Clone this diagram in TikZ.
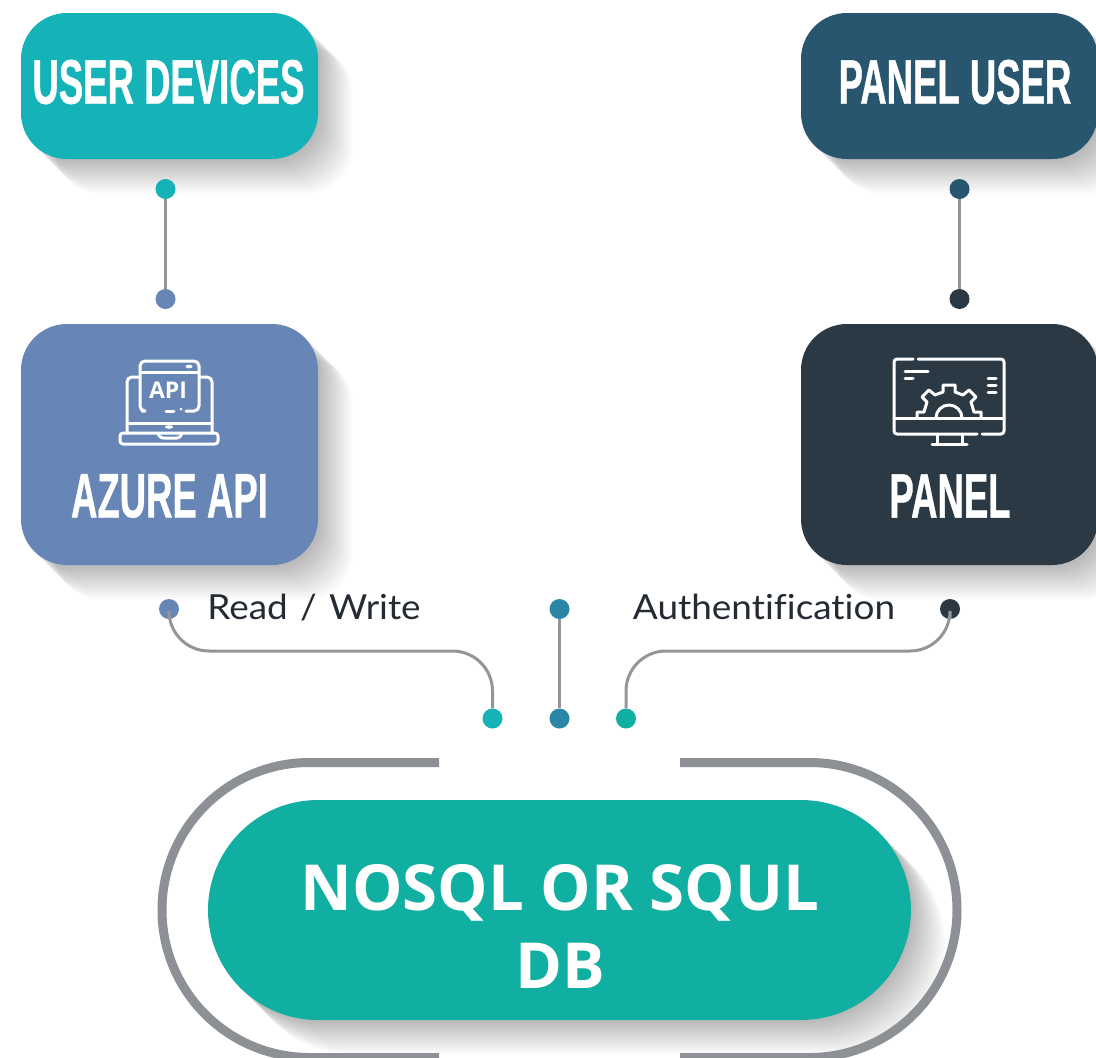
\documentclass[tikz,border=0pt]{standalone}
\usepackage{fontspec}
\setmainfont{Open Sans}
\newfontfamily\headfont[FakeStretch=0.58,FakeBold=0.6]{Liberation Sans}
\newfontfamily\labelfont[FakeStretch=1.07,WordSpace=1.3,Ligatures=NoCommon]{Lato}
\definecolor{cteal}{HTML}{15B2B8}
\definecolor{cnavy}{HTML}{27566E}
\definecolor{cblue}{HTML}{6785B5}
\definecolor{cdark}{HTML}{2A3944}
\definecolor{cgreen}{HTML}{11AFA1}
\definecolor{cmid}{HTML}{2A86A5}
\definecolor{cline}{HTML}{939598}
\definecolor{cring}{HTML}{8D9095}
\definecolor{ctext}{HTML}{252B33}
\newcommand{\softshadow}[5]{%
  \foreach \i in {1,...,35}{%
    \fill[black!60,opacity=.011,rounded corners=#5pt]
      (#1+\i,#2+\i) rectangle (#3+\i,#4+\i);
  }}
\tikzset{
  box/.style={rectangle,inner sep=0pt,minimum width=297pt,rounded corners=46pt,fill=#1},
  head/.style={text=white,inner sep=0pt,font=\headfont\bfseries\fontsize{63}{63}\selectfont},
  dot/.style={circle,inner sep=0pt,minimum size=20pt,fill=#1},
  conn/.style={draw=cline,line width=3pt},
  lbl/.style={text=ctext,inner sep=0pt,font=\labelfont\fontsize{34.5}{34.5}\selectfont},
  ring/.style={draw=cring,line width=9pt},
  icon/.style={draw=white,line width=3pt,line cap=round,line join=round},
}
\begin{document}
\begin{tikzpicture}[x=1pt,y=-1pt]
\useasboundingbox (0,0) rectangle (1096,1058);
\clip (0,0) rectangle (1096,1058);
\fill[white] (0,0) rectangle (1096,1058);
% shadows
\softshadow{21}{13}{318}{159}{46}
\softshadow{801}{13}{1098}{159}{46}
\softshadow{21}{324}{318}{565}{46}
\softshadow{801}{324}{1098}{565}{46}
\softshadow{208}{800}{911}{1020}{110}
% ring
\draw[ring] (439,762.5) -- (309.5,762.5) arc[start angle=90,end angle=270,radius=147.5pt] -- (439,1057.5);
\draw[ring] (680,762.5) -- (809.5,762.5) arc[start angle=90,end angle=-90,radius=147.5pt] -- (680,1057.5);
% boxes
\node[box=cteal,minimum height=146pt] (devices) at (169.5,86) {};
\node[box=cnavy,minimum height=146pt] (paneluser) at (949.5,86) {};
\node[box=cblue,minimum height=241pt] (azure) at (169.5,444.5) {};
\node[box=cdark,minimum height=241pt] (panel) at (949.5,444.5) {};
\node[rectangle,inner sep=0pt,minimum width=703pt,minimum height=220pt,rounded corners=110pt,fill=cgreen] (db) at (559.5,910) {};
% box texts
\node[head] (tdevices) at (168.5,82) {USER DEVICES};
\node[head] (tpaneluser) at (955,82) {PANEL USER};
\node[head] (tazure) at (169.5,496) {AZURE API};
\node[head] (tpanel) at (950,496) {PANEL};
\node[text=white,inner sep=0pt,align=center,font=\bfseries\fontsize{63.5}{78}\selectfont] (tdb) at (560,926) {NOSQL OR SQUL\\DB};
% dots
\node[dot=cteal] (d1) at (165.5,189) {};
\node[dot=cblue] (d2) at (165.5,299) {};
\node[dot=cnavy] (d3) at (959.5,189) {};
\node[dot=cdark] (d4) at (959.5,299) {};
\node[dot=cblue] (d5) at (169,609) {};
\node[dot=cmid] (d6) at (559.5,609) {};
\node[dot=cdark] (d7) at (950,609) {};
\node[dot=cteal] (d8) at (492.5,718.5) {};
\node[dot=cmid] (d9) at (559.5,718.5) {};
\node[dot=cgreen] (d10) at (626,718.5) {};
\coordinate (m1) at (330,651);
\coordinate (m2) at (790,651);
% connectors
\draw[conn] (d1) -- (d2);
\draw[conn] (d3) -- (d4);
\draw[conn] (d6) -- (d9);
\draw[conn,rounded corners=40pt] (d5.south) |- (m1) -| (d8.north);
\draw[conn,rounded corners=40pt] (d7.south) |- (m2) -| (d10.north);
% labels
\node[lbl] (lrw) at (314,608) {Read / Write};
\node[lbl] (lauth) at (764,607) {Authentification};
% API icon
\draw[icon,rounded corners=5pt] (142,411) -- (140,411) -- (140,361) -- (199,361) -- (199,411) -- (186,411);
\draw[icon] (140,372) -- (199,372);
\draw[icon] (166,411) -- (174,411);
\fill[white] (181,409) circle (1.5pt);
\fill[white] (189,366.5) ellipse (3.5pt and 1.8pt);
\draw[icon,rounded corners=5pt] (140,377) -- (127,377) -- (127,433);
\draw[icon,rounded corners=5pt] (199,377) -- (212,377) -- (212,433);
\draw[icon] (127,423) -- (212,423);
\draw[icon,rounded corners=3pt] (120,433) rectangle (218,444);
\fill[white] (169,427) ellipse (4pt and 1.8pt);
\draw[icon,rounded corners=3pt] (158,433) -- (160,438) -- (180,438) -- (182,433);
\node[text=white,inner sep=0pt,font=\bfseries\fontsize{23}{23}\selectfont] (tapi) at (168,390.5) {API};
% panel icon
\draw[icon,rounded corners=3pt] (913,359) -- (894,359) -- (894,434) -- (977,434);
\draw[icon,rounded corners=3pt] (918,359) -- (1004,359) -- (1004,434) -- (982,434);
\draw[icon] (894,418) -- (1004,418);
\draw[icon] (937,434) -- (937,444) (962,434) -- (962,444) (932,444) -- (967,444);
\draw[icon] (905,371) -- (928,371) (905,378) -- (913,378);
\draw[icon] (988,378) -- (996,378) (988,385) -- (996,385) (988,392) -- (996,392);
\begin{scope}[shift={(949,418)}]
\draw[icon] (-32pt,0pt) -- (-32pt,6pt) -- (-25pt,6pt) -- (-22pt,16pt) -- (-27pt,21pt) -- (-20pt,28pt) -- (-14pt,23pt) -- (-6pt,26pt) -- (-6pt,33pt) -- (6pt,33pt) -- (6pt,26pt) -- (14pt,23pt) -- (20pt,28pt) -- (27pt,21pt) -- (22pt,16pt) -- (25pt,6pt) -- (32pt,6pt) -- (32pt,0pt);
\draw[icon] (-13pt,0pt) arc[start angle=180,end angle=0,radius=13pt];
\end{scope}
\end{tikzpicture}
\end{document}
